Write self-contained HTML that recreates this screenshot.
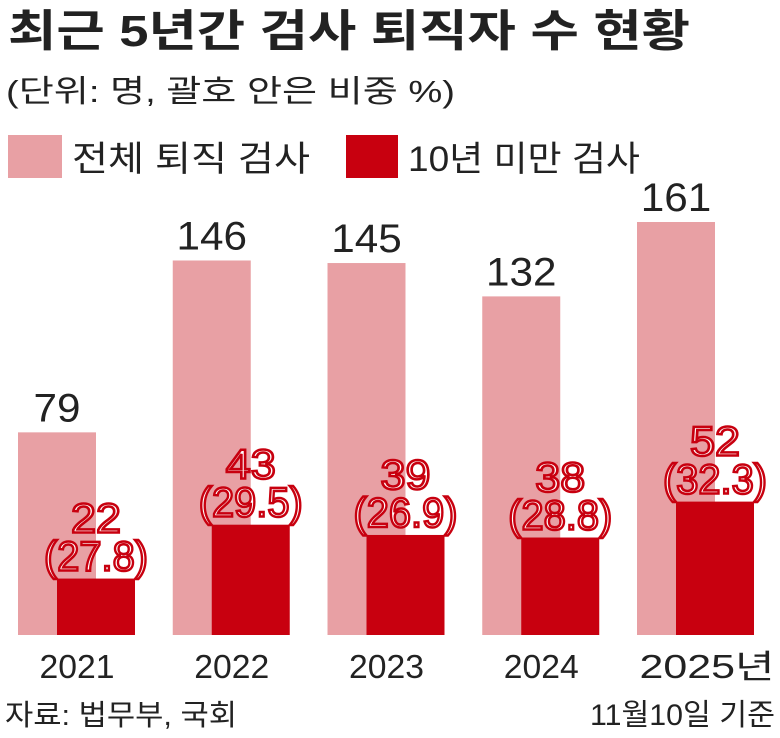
<!DOCTYPE html>
<html><head><meta charset="utf-8"><style>
body{margin:0;background:#fff;}
svg{display:block;font-family:"Liberation Sans","Noto Sans CJK KR",sans-serif;}
</style></head><body>
<svg id="c" width="780" height="738" viewBox="0 0 780 738">
<text x="8" y="46" font-size="44" font-weight="bold" fill="#222" textLength="682" lengthAdjust="spacingAndGlyphs">최근 5년간 검사 퇴직자 수 현황</text>
<text x="6" y="102" font-size="31" fill="#222" textLength="449" lengthAdjust="spacingAndGlyphs">(단위: 명, 괄호 안은 비중 %)</text>
<rect x="8" y="135" width="54" height="43" fill="#e8a0a4"/>
<text x="72" y="171" font-size="35" fill="#222" textLength="238" lengthAdjust="spacingAndGlyphs">전체 퇴직 검사</text>
<rect x="346" y="135" width="52" height="43" fill="#c8000f"/>
<text x="408" y="171" font-size="35" fill="#222" textLength="232" lengthAdjust="spacingAndGlyphs">10년 미만 검사</text>
<g id="bars"></g>
<text x="5" y="725" font-size="29" fill="#222" textLength="232" lengthAdjust="spacingAndGlyphs">자료: 법무부, 국회</text>
<text x="775" y="725" font-size="30" fill="#222" text-anchor="end" textLength="185" lengthAdjust="spacingAndGlyphs">11월10일 기준</text>
</svg>
<script>
const categories=["2021","2022","2023","2024","2025년"];
const totalValues=[79,146,145,132,161];
const under10Values=[22,43,39,38,52];
const shareValues=["27.8","29.5","26.9","28.8","32.3"];
const NS="http://www.w3.org/2000/svg";
const g=document.getElementById("bars");
const base=635, scale=413/161;
function y(v){return base-v*scale;}
function xg(i){return 18+i*154.75;}
function mk(tag,attrs,txt){const e=document.createElementNS(NS,tag);for(const k in attrs)e.setAttribute(k,attrs[k]);if(txt!==undefined)e.textContent=txt;g.appendChild(e);return e;}
categories.forEach((c,i)=>{
  const x0=xg(i), bw=78;
  const t=mk("rect",{x:x0,y:y(totalValues[i]),width:bw,height:base-y(totalValues[i]),fill:"#e8a0a4"});
  
  
  const r=mk("rect",{x:x0+39,y:y(under10Values[i]),width:bw,height:base-y(under10Values[i]),fill:"#c8000f"});
  
  
  const ts=String(totalValues[i]);
  const tl=mk("text",{x:x0+39,y:y(totalValues[i])-11,"font-size":40,fill:"#222","text-anchor":"middle",textLength:ts.length*23.5,lengthAdjust:"spacingAndGlyphs"},ts);
  
  
  const st={"font-size":42,fill:"#fff",stroke:"#c8000f","stroke-width":2.5,"text-anchor":"middle",lengthAdjust:"spacingAndGlyphs"};
  const us=String(under10Values[i]);
  const l1=mk("text",Object.assign({x:x0+78,y:y(under10Values[i])-46,textLength:50},st),us);
  
  
  const l2=mk("text",Object.assign({x:x0+78,y:y(under10Values[i])-8,textLength:104},st),"("+shareValues[i]+")");
  
  
  const ax=mk("text",{x:x0+(i===4?70:59),y:678,"font-size":33,fill:"#222","text-anchor":"middle",textLength:(i===4?135:75),lengthAdjust:"spacingAndGlyphs"},c);
  
  
});
</script>
</body></html>
